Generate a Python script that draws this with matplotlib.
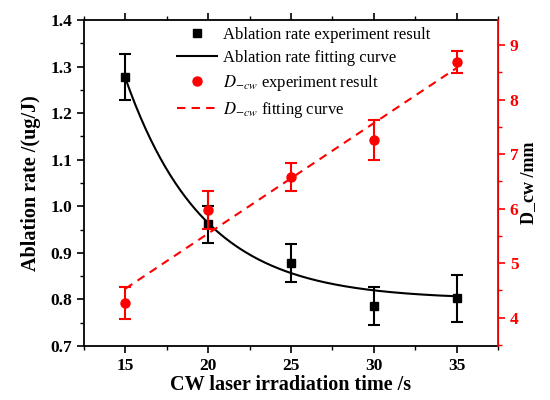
import numpy as np
import matplotlib
matplotlib.use("Agg")
import matplotlib.pyplot as plt
from matplotlib.ticker import MultipleLocator, FormatStrFormatter
from matplotlib.lines import Line2D

plt.rcParams['font.family'] = ['Liberation Serif', 'DejaVu Serif']
plt.rcParams['mathtext.fontset'] = 'stix'

# Data
time_s = [15, 20, 25, 30, 35]
ablation_rate = [1.278, 0.961, 0.878, 0.786, 0.802]
ablation_err = [0.05, 0.04, 0.04, 0.04, 0.05]
d_cw = [4.27, 5.98, 6.58, 7.26, 8.69]
d_cw_err = [0.29, 0.35, 0.25, 0.36, 0.20]
# exponential decay fit parameters (y0 + A*exp(-(x-x0)/t))
fit_y0, fit_A, fit_x0, fit_t = 0.80, 0.475, 15.0, 4.7

fig = plt.figure(figsize=(5.5, 4.0), dpi=100)
ax = fig.add_axes([0.1527, 0.135, 0.7528, 0.815])
ax2 = ax.twinx()

xs = np.linspace(15, 35, 200)
fit_curve = fit_y0 + fit_A * np.exp(-(xs - fit_x0) / fit_t)
ax.plot(xs, fit_curve, color='black', lw=1.5)
ax.errorbar(time_s, ablation_rate, yerr=ablation_err, fmt='s', color='black',
            ms=6, capsize=4, elinewidth=1.5, capthick=1.5)

coef = np.polyfit(time_s, d_cw, 1)
xl = np.array([15, 35])
ax2.plot(xl, np.polyval(coef, xl), color='red', lw=1.5, ls=(0, (4, 3)))
ax2.errorbar(time_s, d_cw, yerr=d_cw_err, fmt='o', color='red',
             ms=6.5, capsize=4, elinewidth=1.5, capthick=1.5)

ax.set_xlim(12.5, 37.5)
ax.set_ylim(0.7, 1.4)
ax2.set_ylim(3.48, 9.46)

ax.xaxis.set_major_locator(MultipleLocator(5))
ax.xaxis.set_minor_locator(MultipleLocator(2.5))
ax.yaxis.set_major_locator(MultipleLocator(0.1))
ax.yaxis.set_minor_locator(MultipleLocator(0.05))
ax.yaxis.set_major_formatter(FormatStrFormatter('%.1f'))
ax2.yaxis.set_major_locator(MultipleLocator(1))
ax2.yaxis.set_minor_locator(MultipleLocator(0.5))

ax.tick_params(axis='x', which='both', direction='out', top=True)
ax.tick_params(axis='y', which='both', direction='out', left=True, right=False)
ax.tick_params(which='major', length=5, width=1.2, labelsize=12.5)
ax.tick_params(which='minor', length=3, width=1.0)
ax2.tick_params(axis='y', which='both', direction='out', colors='red', labelsize=12.5)
ax2.tick_params(which='major', length=5, width=1.2)
ax2.tick_params(which='minor', length=3, width=1.0)

for lab in ax.get_xticklabels() + ax.get_yticklabels() + ax2.get_yticklabels():
    lab.set_fontweight('bold')

for sp in ['left', 'bottom', 'top']:
    ax.spines[sp].set_linewidth(1.3)
ax2.spines['right'].set_color('red')
ax2.spines['right'].set_linewidth(1.3)
for sp in ['left', 'bottom', 'top']:
    ax2.spines[sp].set_visible(False)

ax.set_xlabel('CW laser irradiation time /s', fontsize=14.5, fontweight='bold', labelpad=1)
ax.set_ylabel('Ablation rate /(ug/J)', fontsize=14.5, fontweight='bold', labelpad=7)
ax2.set_ylabel('D_cw /mm', fontsize=13, fontweight='bold', labelpad=1)

handles = [
    Line2D([], [], marker='s', color='black', ls='none', ms=6),
    Line2D([], [], color='black', lw=1.5),
    Line2D([], [], marker='o', color='red', ls='none', ms=6.5),
    Line2D([], [], color='red', lw=1.5, ls=(0, (4, 3))),
]
labels = ['Ablation rate experiment result', 'Ablation rate fitting curve',
          r'$D_{-cw}$ experiment result', r'$D_{-cw}$ fitting curve']
ax2.legend(handles, labels, loc='upper left', bbox_to_anchor=(0.2, 1.01),
           frameon=False, fontsize=12, handlelength=2.4, labelspacing=0.42,
           handletextpad=0.4, borderaxespad=0.2)

fig.savefig('out.png', dpi=100)
